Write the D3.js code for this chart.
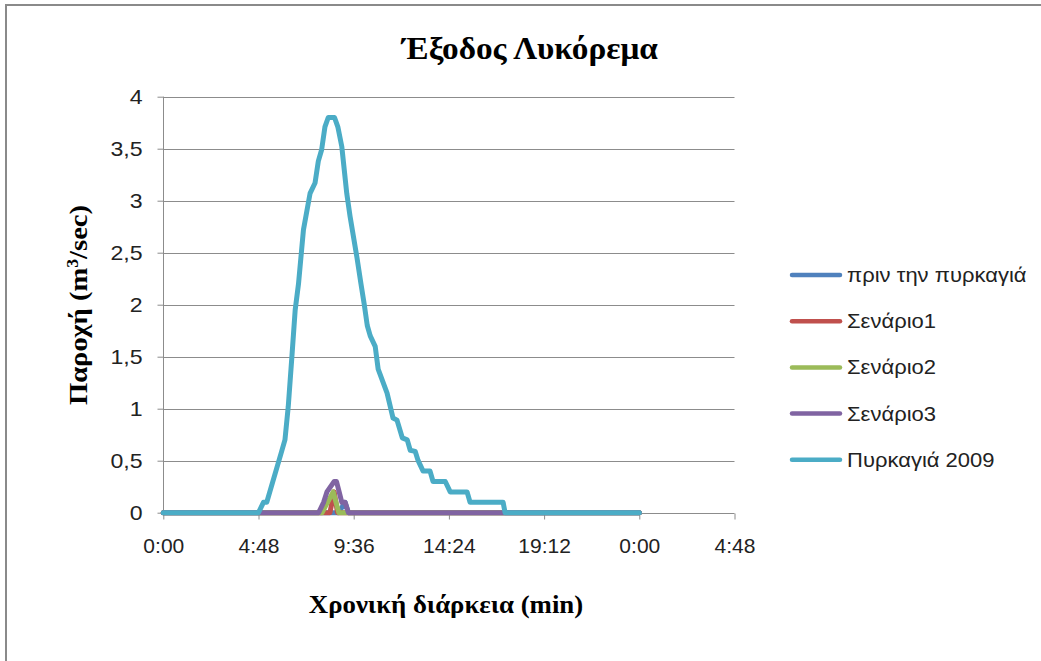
<!DOCTYPE html>
<html>
<head>
<meta charset="utf-8">
<script src="https://cdn.jsdelivr.net/npm/d3@7"></script>
<style>
  html, body { margin: 0; padding: 0; background: #ffffff; }
  svg { display: block; }
</style>
</head>
<body>
<svg id="chart" width="1041" height="661"></svg>
<script>
// Outflow hydrographs at the Lykorema outlet (time in minutes, flow in m3/sec)
const seriesNames = ["πριν την πυρκαγιά", "Σενάριο1", "Σενάριο2", "Σενάριο3", "Πυρκαγιά 2009"];
const seriesColors = ["#4F81BD", "#C0504D", "#9BBB59", "#8064A2", "#4BACC6"];

const beforeTime = [0, 530, 550, 560, 1440];
const beforeFlow = [0, 0, 0.1, 0, 0];

const scen1Time = [0, 504, 517, 527, 1440];
const scen1Flow = [0, 0, 0.2, 0, 0];

const scen2Time = [0, 480, 514, 531, 1440];
const scen2Flow = [0, 0, 0.2, 0, 0];

const scen3Time = [0, 470, 485, 495, 517, 524, 532, 540, 550, 560, 1440];
const scen3Flow = [0, 0, 0.1, 0.2, 0.3, 0.3, 0.2, 0.1, 0.1, 0, 0];

const fireTime = [0, 288, 303, 313, 358, 368, 378, 389, 399, 409, 424, 444, 459, 469, 479, 489, 499,
  518, 528, 540, 555, 565, 586, 598, 608, 617, 626, 641, 650, 677, 695, 707, 723, 738, 747, 762,
  771, 786, 807, 816, 853, 868, 919, 928, 1028, 1034, 1440];
const fireFlow = [0, 0, 0.1, 0.1, 0.59, 0.7, 1.02, 1.5, 1.95, 2.2, 2.72, 3.07, 3.17, 3.38, 3.49, 3.71, 3.8,
  3.8, 3.71, 3.52, 3.07, 2.85, 2.45, 2.2, 2.0, 1.8, 1.7, 1.6, 1.38, 1.15, 0.91, 0.89, 0.72, 0.7, 0.6, 0.59,
  0.5, 0.4, 0.4, 0.3, 0.3, 0.2, 0.2, 0.1, 0.1, 0, 0];

const xTicks = [0, 288, 576, 864, 1152, 1440, 1728];
const yTicks = [0, 0.5, 1, 1.5, 2, 2.5, 3, 3.5, 4];

const titleText = "Έξοδος Λυκόρεμα";
const xTitleText = "Χρονική διάρκεια (min)";

const seriesTimes = [beforeTime, scen1Time, scen2Time, scen3Time, fireTime];
const seriesFlows = [beforeFlow, scen1Flow, scen2Flow, scen3Flow, fireFlow];
const series = seriesNames.map((name, i) => ({
  name,
  color: seriesColors[i],
  points: seriesTimes[i].map((t, j) => ({ t, q: seriesFlows[i][j] }))
}));

const svg = d3.select("#chart");
const plot = { left: 163.3, right: 734.5, top: 96.7, bottom: 512.7 };

const x = d3.scaleLinear().domain([0, 1728]).range([plot.left, plot.right]);
const y = d3.scaleLinear().domain([0, 4]).range([plot.bottom, plot.top]);

const fmtTime = m => `${Math.floor(m / 60) % 24}:${String(Math.round(m % 60)).padStart(2, "0")}`;
const fmtFlow = v => String(v).replace(".", ",");

const serif = "'Liberation Serif', 'DejaVu Serif', serif";
const sans = "'Liberation Sans', Arial, sans-serif";

// stretch a text element along its baseline by a fixed factor
function widen(sel, factor) {
  sel.each(function () {
    const w = this.getComputedTextLength();
    d3.select(this).attr("textLength", w * factor).attr("lengthAdjust", "spacingAndGlyphs");
  });
}

// outer frame (top and left edges)
svg.append("path")
  .attr("d", "M6,661 L6,5 L1041,5")
  .attr("fill", "none")
  .attr("stroke", "#8a8a8a")
  .attr("stroke-width", 2);

// title
svg.append("text")
  .attr("x", 530).attr("y", 59)
  .attr("text-anchor", "middle")
  .attr("font-family", serif)
  .attr("font-weight", "bold")
  .attr("font-size", 32)
  .attr("fill", "#000")
  .text(titleText)
  .call(widen, 1.04);

// horizontal gridlines
svg.append("g")
  .selectAll("line")
  .data(yTicks.filter(v => v > 0))
  .join("line")
  .attr("x1", plot.left).attr("x2", plot.right)
  .attr("y1", d => Math.round(y(d)) + 0.5).attr("y2", d => Math.round(y(d)) + 0.5)
  .attr("stroke", "#8c8c8c")
  .attr("stroke-width", 1);

// y axis
const yAxis = d3.axisLeft(y).tickValues(yTicks).tickFormat(fmtFlow).tickSize(6).tickPadding(15);
const gy = svg.append("g").attr("transform", `translate(${Math.round(plot.left) + 0.5},0)`).call(yAxis);
gy.select(".domain").attr("stroke", "#8c8c8c").attr("d", `M0,${y(4)}V${y(0)}`);
gy.selectAll(".tick line").attr("stroke", "#8c8c8c");
gy.selectAll(".tick text")
  .attr("font-family", sans)
  .attr("font-size", 21)
  .attr("fill", "#222")
  .call(widen, 1.1);

// x axis
const xAxis = d3.axisBottom(x).tickValues(xTicks).tickFormat(fmtTime).tickSize(6).tickPadding(19);
const gx = svg.append("g").attr("transform", `translate(0,${Math.round(plot.bottom) + 0.5})`).call(xAxis);
gx.select(".domain").attr("stroke", "#8c8c8c").attr("d", `M${x(0)},0H${x(1728)}`);
gx.selectAll(".tick line").attr("stroke", "#8c8c8c");
gx.selectAll(".tick text")
  .attr("font-family", sans)
  .attr("font-size", 21)
  .attr("fill", "#222");

// axis titles
svg.append("text")
  .attr("x", 446).attr("y", 613)
  .attr("text-anchor", "middle")
  .attr("font-family", serif)
  .attr("font-weight", "bold")
  .attr("font-size", 26)
  .attr("fill", "#000")
  .text(xTitleText)
  .call(widen, 1.03);

const yTitle = svg.append("text")
  .attr("transform", "translate(87,305) rotate(-90)")
  .attr("text-anchor", "middle")
  .attr("font-family", serif)
  .attr("font-weight", "bold")
  .attr("font-size", 26)
  .attr("fill", "#000");
yTitle.append("tspan").text("Παροχή (m");
yTitle.append("tspan").attr("font-size", 16).attr("dy", -9).text("3");
yTitle.append("tspan").attr("dy", 9).text("/sec)");
yTitle.call(widen, 1.1);

// series lines
const line = d3.line().x(d => x(d.t)).y(d => y(d.q));
svg.append("g")
  .selectAll("path")
  .data(series)
  .join("path")
  .attr("d", d => line(d.points))
  .attr("fill", "none")
  .attr("stroke", d => d.color)
  .attr("stroke-width", 5)
  .attr("stroke-linejoin", "round")
  .attr("stroke-linecap", "round");

// legend
const legend = svg.append("g")
  .selectAll("g")
  .data(series)
  .join("g")
  .attr("transform", (d, i) => `translate(792,${275 + i * 46.2})`);
legend.append("line")
  .attr("x1", 0).attr("x2", 48)
  .attr("stroke", d => d.color)
  .attr("stroke-width", 4.5)
  .attr("stroke-linecap", "round");
legend.append("text")
  .attr("x", 55).attr("y", 7)
  .attr("font-family", sans)
  .attr("font-size", 20)
  .attr("fill", "#222")
  .text(d => d.name)
  .call(widen, 1.1);
</script>
</body>
</html>
